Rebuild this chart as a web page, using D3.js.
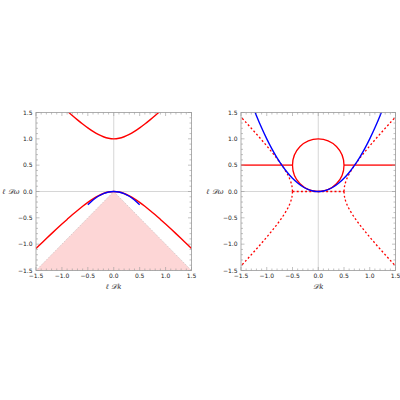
<!DOCTYPE html>
<html>
<head>
<meta charset="utf-8">
<script src="https://cdn.jsdelivr.net/npm/d3@7"></script>
<style>
  body { margin: 0; background: #fff; }
  svg { display: block; }
  .tick-label { font-family: "DejaVu Sans", sans-serif; font-size: 6px; fill: #222; }
  .axis-title { font-family: "DejaVu Serif", serif; font-size: 7px; font-style: italic; fill: #222; }
</style>
</head>
<body>
<svg width="400" height="400"></svg>
<script>
// sample points
const kGrid = [-1.5,-1.4,-1.3,-1.2,-1.1,-1.0,-0.9,-0.8,-0.7,-0.6,-0.5,-0.4,-0.3,-0.2,-0.1,0,
  0.1,0.2,0.3,0.4,0.5,0.6,0.7,0.8,0.9,1.0,1.1,1.2,1.3,1.4,1.5];

// left panel
const leftLower = [-1.081,-0.987,-0.893,-0.800,-0.708,-0.618,-0.530,-0.443,-0.360,-0.281,-0.207,
  -0.140,-0.083,-0.038,-0.010,0,-0.010,-0.038,-0.083,-0.140,-0.207,-0.281,-0.360,-0.443,-0.530,
  -0.618,-0.708,-0.800,-0.893,-0.987,-1.081];
const kUpper = [-0.9,-0.8,-0.7,-0.6,-0.5,-0.4,-0.3,-0.2,-0.1,0,0.1,0.2,0.3,0.4,0.5,0.6,0.7,0.8,0.9];
const leftUpper = [1.530,1.443,1.360,1.281,1.207,1.140,1.083,1.039,1.010,1.0,1.010,1.039,1.083,
  1.140,1.207,1.281,1.360,1.443,1.530];
const kBlueLeft = [-0.5,-0.4,-0.3,-0.2,-0.1,0,0.1,0.2,0.3,0.4,0.5];
const leftBlue = [-0.25,-0.16,-0.09,-0.04,-0.01,0,-0.01,-0.04,-0.09,-0.16,-0.25];
const cone = [[-1.5,-1.5],[0,0],[1.5,-1.5]];

// right panel
const kBlueRight = [-1.3,-1.2,-1.1,-1.0,-0.9,-0.8,-0.7,-0.6,-0.5,-0.4,-0.3,-0.2,-0.1,0,
  0.1,0.2,0.3,0.4,0.5,0.6,0.7,0.8,0.9,1.0,1.1,1.2,1.3];
const rightBlue = [1.69,1.44,1.21,1.0,0.81,0.64,0.49,0.36,0.25,0.16,0.09,0.04,0.01,0,
  0.01,0.04,0.09,0.16,0.25,0.36,0.49,0.64,0.81,1.0,1.21,1.44,1.69];
const circle = {k: 0, w: 0.5, r: 0.5};
const flatSolid = [[[-1.5,0.5],[-0.5,0.5]], [[0.5,0.5],[1.5,0.5]]];
const flatDashed = [[-0.5,0],[0.5,0]];
const kBranch = [0.5,0.51,0.52,0.55,0.6,0.7,0.8,0.9,1.0,1.1,1.2,1.3,1.4,1.5];
const wBranch = [0,0.100,0.143,0.229,0.332,0.490,0.624,0.748,0.866,0.980,1.091,1.200,1.308,1.414];

const majorTicks = [-1.5,-1.0,-0.5,0.0,0.5,1.0,1.5];
const minorTicks = [-1.4,-1.3,-1.2,-1.1,-0.9,-0.8,-0.7,-0.6,-0.4,-0.3,-0.2,-0.1,
  0.1,0.2,0.3,0.4,0.6,0.7,0.8,0.9,1.1,1.2,1.3,1.4];

const red = '#f00', blue = '#00f';
const svg = d3.select('svg');

const makePanel = (id, x0, x1, xTitle, yTitleX) => {
  const x = d3.scaleLinear().domain([-1.5, 1.5]).range([x0, x1]);
  const y = d3.scaleLinear().domain([-1.5, 1.5]).range([270.5, 112.5]);
  const g = svg.append('g').attr('class', 'panel');

  g.append('clipPath').attr('id', id)
    .append('rect')
    .attr('x', x0).attr('y', 112.5)
    .attr('width', x1 - x0).attr('height', 158);

  // zero grid lines
  g.append('line').attr('x1', x(0)).attr('x2', x(0)).attr('y1', y(-1.5)).attr('y2', y(1.5))
    .attr('stroke', '#ccc').attr('stroke-width', 0.8);
  g.append('line').attr('x1', x(-1.5)).attr('x2', x(1.5)).attr('y1', y(0)).attr('y2', y(0))
    .attr('stroke', '#ccc').attr('stroke-width', 0.8);

  const plot = g.append('g').attr('clip-path', `url(#${id})`);

  // frame + ticks
  const frame = g.append('g').attr('class', 'frame');
  frame.append('rect')
    .attr('x', x0).attr('y', 112.5).attr('width', x1 - x0).attr('height', 158)
    .attr('fill', 'none').attr('stroke', '#999').attr('stroke-width', 0.8);

  const tick = (v, len) => {
    frame.append('line').attr('x1', x(v)).attr('x2', x(v)).attr('y1', y(-1.5)).attr('y2', y(-1.5) - len);
    frame.append('line').attr('x1', x(v)).attr('x2', x(v)).attr('y1', y(1.5)).attr('y2', y(1.5) + len);
    frame.append('line').attr('y1', y(v)).attr('y2', y(v)).attr('x1', x(-1.5)).attr('x2', x(-1.5) + len);
    frame.append('line').attr('y1', y(v)).attr('y2', y(v)).attr('x1', x(1.5)).attr('x2', x(1.5) - len);
  };
  majorTicks.forEach(v => tick(v, 3.5));
  minorTicks.forEach(v => tick(v, 2));
  frame.selectAll('line').attr('stroke', '#999').attr('stroke-width', 0.6);

  const fmt = d3.format('.1f');
  const lab = v => fmt(v).replace('-', '\u2212');
  g.selectAll('.xt').data(majorTicks).enter().append('text')
    .attr('class', 'tick-label')
    .attr('x', x).attr('y', 278)
    .attr('text-anchor', 'middle')
    .text(lab);
  g.selectAll('.yt').data(majorTicks).enter().append('text')
    .attr('class', 'tick-label')
    .attr('x', x0 - 3.5).attr('y', d => y(d) + 2.2)
    .attr('text-anchor', 'end')
    .text(lab);

  g.append('text').attr('class', 'axis-title')
    .attr('x', (x0 + x1) / 2).attr('y', 289)
    .attr('text-anchor', 'middle')
    .text(xTitle);
  g.append('text').attr('class', 'axis-title')
    .attr('x', yTitleX).attr('y', y(0) + 2.5)
    .attr('text-anchor', 'middle')
    .text('\u2113 \u{1D49F}\u03C9');

  return {x, y, plot};
};

const lineFn = (x, y) => d3.line().x(d => x(d[0])).y(d => y(d[1])).curve(d3.curveCatmullRom.alpha(0.5));
const zip = (ks, ws) => ks.map((k, i) => [k, ws[i]]);

// ---- left panel
{
  const {x, y, plot} = makePanel('clipL', 36, 191.5, '\u2113 \u{1D49F}k', 11);
  const line = lineFn(x, y);

  plot.append('path')
    .attr('d', d3.line().x(d => x(d[0])).y(d => y(d[1]))(cone) + 'Z')
    .attr('fill', '#fdd6d6')
    .attr('stroke', '#aaa').attr('stroke-width', 0.6).attr('stroke-dasharray', '1,1.5');

  plot.append('path').attr('d', line(zip(kGrid, leftLower)))
    .attr('fill', 'none').attr('stroke', red).attr('stroke-width', 1.4);
  plot.append('path').attr('d', line(zip(kUpper, leftUpper)))
    .attr('fill', 'none').attr('stroke', red).attr('stroke-width', 1.4);
  plot.append('path').attr('d', line(zip(kBlueLeft, leftBlue)))
    .attr('fill', 'none').attr('stroke', blue).attr('stroke-width', 1.4);
}

// ---- right panel
{
  const {x, y, plot} = makePanel('clipR', 241, 395.5, '\u{1D49F}k', 215);
  const line = lineFn(x, y);

  // dashed branches
  const branches = [[1, 1], [1, -1], [-1, 1], [-1, -1]];
  branches.forEach(([sk, sw]) => {
    plot.append('path')
      .attr('d', line(kBranch.map((k, i) => [sk * k, sw * wBranch[i]])))
      .attr('fill', 'none').attr('stroke', red).attr('stroke-width', 1.3)
      .attr('stroke-dasharray', '2,2.2');
  });
  plot.append('path').attr('d', d3.line().x(d => x(d[0])).y(d => y(d[1]))(flatDashed))
    .attr('fill', 'none').attr('stroke', red).attr('stroke-width', 1.3)
    .attr('stroke-dasharray', '2,2.2');

  flatSolid.forEach(seg => {
    plot.append('path').attr('d', d3.line().x(d => x(d[0])).y(d => y(d[1]))(seg))
      .attr('fill', 'none').attr('stroke', red).attr('stroke-opacity', 0.75).attr('stroke-width', 1.8);
  });

  plot.append('ellipse')
    .attr('cx', x(circle.k)).attr('cy', y(circle.w))
    .attr('rx', x(circle.r) - x(0)).attr('ry', y(0) - y(circle.r))
    .attr('fill', 'none').attr('stroke', red).attr('stroke-width', 1.3);

  plot.append('path').attr('d', line(zip(kBlueRight, rightBlue)))
    .attr('fill', 'none').attr('stroke', blue).attr('stroke-width', 1.4);
}
</script>
</body>
</html>
